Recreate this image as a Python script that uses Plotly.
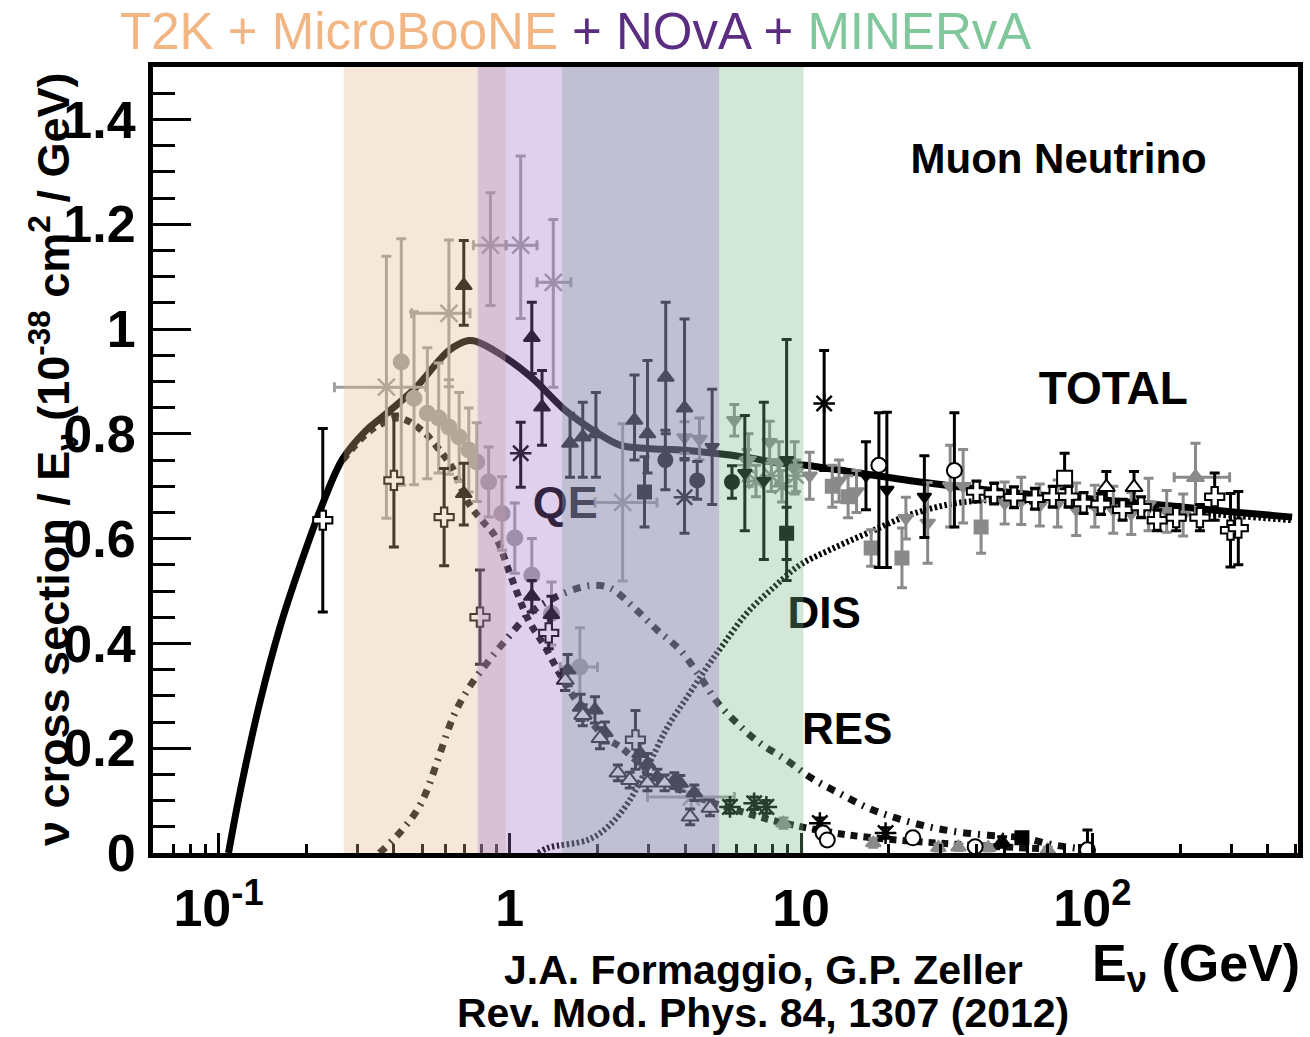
import plotly.graph_objects as go

# ---------------- model curves ----------------
total_E = [0.1082, 0.1189, 0.139, 0.1627, 0.1904, 0.228, 0.2668, 0.322, 0.365, 0.477, 0.618, 0.723, 0.77,
           0.915, 1.186, 1.549, 2.006, 2.403, 2.971, 3.849, 5.027, 6.516, 8.44, 10.35, 14.97, 27.4, 50.5,
           93.2, 172, 317, 485]
total_y = [0.0, 0.12, 0.29, 0.432, 0.548, 0.667, 0.752, 0.807, 0.832, 0.889, 0.959, 0.978, 0.976,
           0.954, 0.908, 0.845, 0.801, 0.778, 0.772, 0.769, 0.763, 0.755, 0.744, 0.74, 0.727, 0.706, 0.689,
           0.677, 0.664, 0.650, 0.641]

qe_E = [0.2668, 0.322, 0.365, 0.4174, 0.5, 0.585, 0.633,
        0.723, 0.801, 0.894, 1.0055, 1.158, 1.323, 1.525, 1.756, 2.12, 2.403, 2.971, 3.849, 5.027, 6.516,
        8.44, 14.28, 31.3, 68.7]
qe_y = [0.75, 0.80, 0.82, 0.83, 0.806, 0.763, 0.736,
        0.667, 0.635, 0.603, 0.53, 0.445, 0.393, 0.33, 0.278, 0.221, 0.202, 0.158, 0.12, 0.095, 0.076,
        0.059, 0.035, 0.018, 0.008]

res_E = [0.357, 0.427, 0.496, 0.643, 0.723, 0.826, 0.967, 1.186, 1.431, 1.756, 1.975, 2.222, 2.683,
         3.214, 3.849, 4.504, 5.15, 6.02, 7.21, 8.92, 10.85, 13.52, 16.97, 21.15, 27.4, 34.7, 43.9,
         57.3, 74.3, 101.7]
res_y = [0.0, 0.044, 0.095, 0.263, 0.315, 0.359, 0.406, 0.46, 0.488, 0.507, 0.511, 0.505, 0.467,
         0.425, 0.387, 0.336, 0.288, 0.248, 0.210, 0.177, 0.143, 0.114, 0.086, 0.067, 0.050, 0.040, 0.034,
         0.029, 0.015, 0.005]

dis_E = [1.253, 1.355, 1.855, 2.17, 2.54, 2.971, 3.475, 4.067, 4.758, 5.437, 6.516, 8.05, 9.87, 12.5,
         16.84, 24.4, 39.6, 101.7, 489]
dis_y = [0.0, 0.01, 0.025, 0.05, 0.095, 0.164, 0.24, 0.298, 0.355, 0.40, 0.458, 0.507, 0.549, 0.578,
         0.61, 0.648, 0.672, 0.662, 0.635]

# ---------------- data points ----------------
cross_E = [0.228, 0.40, 0.595, 0.79, 1.36, 2.7, 40, 46, 53.8, 63.5, 73.1, 82.9, 93.3, 107, 127, 147, 167,
           194, 234, 263, 298, 317]
cross_y = [0.635, 0.711, 0.641, 0.45, 0.42, 0.216, 0.69, 0.686, 0.679, 0.676, 0.68, 0.68, 0.668, 0.666,
           0.655, 0.66, 0.635, 0.64, 0.64, 0.68, 0.616, 0.62]
cross_err = [0.175, 0.127, 0.093, 0.09, 0.03, 0.056, 0.02, 0.02, 0.02, 0.02, 0.02, 0.02, 0.02, 0.02,
             0.02, 0.02, 0.02, 0.025, 0.025, 0.045, 0.07, 0.07]

circ_E = [0.424, 0.469, 0.521, 0.57, 0.618, 0.67, 0.723, 0.77, 0.846, 0.94, 1.04, 1.19, 1.39]
circ_y = [0.937, 0.868, 0.839, 0.83, 0.813, 0.794, 0.769, 0.746, 0.708, 0.648, 0.601, 0.53, 0.457]
circ_err = [0.235, 0.165, 0.125, 0.105, 0.09, 0.085, 0.08, 0.075, 0.067, 0.07, 0.067, 0.07, 0.06]

gstar_E = [0.377, 0.618, 0.858, 1.09, 1.41, 2.44, 4.2]
gstar_y = [0.889, 1.03, 1.16, 1.16, 1.089, 0.669, 0.107]
gstar_lo = [0.25, 0.46, 0.75, 0.97, 1.24, 1.96, 2.97]
gstar_hi = [0.515, 0.73, 0.97, 1.24, 1.62, 3.2, 5.9]
gstar_eyp = [0.25, 0.14, 0.10, 0.17, 0.12, 0.15, 0.0]
gstar_eym = [0.25, 0.14, 0.115, 0.14, 0.20, 0.15, 0.0]

ghist_E = [1.74]
ghist_y = [0.355]
ghist_lo = [1.49]
ghist_hi = [2.0]
ghist_err = [0.075]

tri_E = [0.695, 0.695, 1.19, 1.29, 1.61, 1.78, 1.975, 2.68, 2.97, 3.43, 3.98, 1.19, 1.39, 1.58, 1.75,
         1.96, 2.12, 2.8, 2.97, 3.21, 3.67, 3.85, 4.3, 49]
tri_y = [1.083, 0.686, 0.984, 0.851, 0.782, 0.794, 0.80, 0.826, 0.80, 0.908, 0.849, 0.49, 0.455, 0.349,
         0.278, 0.273, 0.23, 0.19, 0.17, 0.145, 0.138, 0.133, 0.115, 0.021]
tri_eyp = [0.086, 0.058, 0.067, 0.07, 0.057, 0.066, 0.079, 0.086, 0.14, 0.143, 0.17, 0.03, 0.035, 0.03,
           0.025, 0.025, 0.02, 0.02, 0.02, 0.015, 0.015, 0.015, 0.015, 0.01]
tri_eym = [0.076, 0.06, 0.069, 0.073, 0.065, 0.077, 0.083, 0.076, 0.075, 0.108, 0.099, 0.03, 0.035, 0.03,
           0.025, 0.025, 0.02, 0.02, 0.02, 0.015, 0.015, 0.015, 0.015, 0.01]

bstar_E = [1.09, 3.98, 12.0, 5.7, 6.9, 7.6, 11.6, 19.5]
bstar_y = [0.763, 0.679, 0.858, 0.088, 0.095, 0.088, 0.057, 0.038]
bstar_eyp = [0.059, 0.074, 0.101, 0.012, 0.012, 0.012, 0.01, 0.01]
bstar_eym = [0.065, 0.069, 0.128, 0.012, 0.012, 0.012, 0.01, 0.01]

bcirc_E = [3.42, 4.4, 5.79]
bcirc_y = [0.75, 0.711, 0.708]
bcirc_err = [0.057, 0.036, 0.031]

bsq_E = [2.9, 8.92, 57.3]
bsq_y = [0.689, 0.61, 0.029]
bsq_err = [0.067, 0.05, 0.006]

btd_E = [4.95, 6.41, 7.45, 8.92, 16.7, 19.7, 26.5]
btd_y = [0.775, 0.725, 0.71, 0.75, 0.72, 0.693, 0.68]
btd_err = [0.11, 0.11, 0.15, 0.23, 0.065, 0.148, 0.078]

ocirc_E = [18.5, 33.6, 11.9, 12.3, 24.2, 39.6, 96.2]
ocirc_y = [0.74, 0.73, 0.038, 0.025, 0.029, 0.012, 0.006]
ocirc_eyp = [0.10, 0.11, 0.008, 0.008, 0.008, 0.006, 0.038]
ocirc_eym = [0.195, 0.108, 0.008, 0.008, 0.008, 0.006, 0.006]

otri_E = [1.55, 1.78, 2.04, 2.35, 2.58, 2.97, 3.40, 4.16, 4.87, 111.7, 139]
otri_y = [0.33, 0.263, 0.219, 0.153, 0.139, 0.134, 0.134, 0.069, 0.086, 0.698, 0.698]
otri_err = [0.02, 0.02, 0.02, 0.015, 0.015, 0.015, 0.015, 0.015, 0.015, 0.03, 0.03]

osq_E = [80.3]
osq_y = [0.715]
osq_eyp = [0.048]
osq_eym = [0.02]

gtri_E = [226]
gtri_y = [0.717]
gtri_lo = [191]
gtri_hi = [296]
gtri_eyp = [0.065]
gtri_eym = [0.082]

gtri2_E = [8.7, 17.7, 29.6, 34.7, 43.9, 70.3]
gtri2_y = [0.057, 0.019, 0.01, 0.011, 0.01, 0.006]
gtri2_err = [0.01, 0.008, 0.006, 0.006, 0.006, 0.005]

gtd_E = [3.98, 4.48, 5.9, 7.8, 6.6, 8.4, 9.5, 10.7, 13.5, 15.5, 22.9, 27.2, 32.5, 36, 50, 57, 66, 76, 88,
         102, 118, 136, 156, 180, 205]
gtd_y = [0.793, 0.79, 0.826, 0.784, 0.75, 0.745, 0.735, 0.72, 0.71, 0.69, 0.639, 0.63, 0.70, 0.70, 0.668,
         0.672, 0.664, 0.667, 0.656, 0.662, 0.655, 0.648, 0.665, 0.652, 0.645]
gtd_err = [0.03, 0.04, 0.03, 0.04, 0.05, 0.04, 0.05, 0.045, 0.04, 0.04, 0.04, 0.077, 0.078, 0.07, 0.04,
           0.045, 0.04, 0.045, 0.05, 0.04, 0.045, 0.04, 0.05, 0.04, 0.04]

gsq_E = [17.4, 22.2, 41.5, 12.8, 14.5]
gsq_y = [0.582, 0.563, 0.622, 0.70, 0.68]
gsq_err = [0.035, 0.057, 0.05, 0.04, 0.04]

gstar2_E = [6.5, 7.0, 7.9, 8.6, 9.6]
gstar2_y = [0.74, 0.71, 0.72, 0.70, 0.72]
gstar2_err = [0.03, 0.03, 0.03, 0.03, 0.03]

# experiment bands (GeV); drawn in this order so MINERvA sits under NOvA
band_names = ["T2K + MicroBooNE", "MINERvA", "NOvA"]
band_lo = [0.269, 1.512, 0.776]
band_hi = [0.967, 10.19, 5.23]
band_rgba = ["rgba(225,181,140,0.32)", "rgba(121,182,136,0.33)", "rgba(156,109,203,0.32)"]

x_major = [0.1, 1, 10, 100]
x_major_text = ["10<sup>-1</sup>", "1", "10", "10<sup>2</sup>"]
x_minor = [0.07, 0.08, 0.09, 0.2, 0.3, 0.4, 0.5, 0.6, 0.7, 0.8, 0.9, 2, 3, 4, 5, 6, 7, 8, 9,
           20, 30, 40, 50, 60, 70, 80, 90, 200, 300, 400, 500]
y_major = [0, 0.2, 0.4, 0.6, 0.8, 1.0, 1.2, 1.4]
y_major_text = ["0", "0.2", "0.4", "0.6", "0.8", "1", "1.2", "1.4"]

BLACK = "#000000"
GRAY = "#8a8a8a"
LGRAY = "#a0a0a0"
FONT = "Liberation Sans, Arial, Helvetica, sans-serif"

fig = go.Figure()

# curves
fig.add_trace(go.Scatter(x=dis_E, y=dis_y, mode="lines", line=dict(color="#000", width=6, dash="2.5px,2.5px", shape="spline"), hoverinfo="skip"))
fig.add_trace(go.Scatter(x=res_E, y=res_y, mode="lines", line=dict(color="#111", width=7, dash="8px,7px,2px,7px", shape="spline"), hoverinfo="skip"))
fig.add_trace(go.Scatter(x=qe_E, y=qe_y, mode="lines", line=dict(color="#111", width=7, dash="7px,6px", shape="spline"), hoverinfo="skip"))
fig.add_trace(go.Scatter(x=total_E, y=total_y, mode="lines", line=dict(color="#000", width=7, shape="spline", smoothing=1.0), hoverinfo="skip"))


def pts(x, y, symbol, color, size, eyp, eym=None, xlo=None, xhi=None, fill=None, lw=2):
    ey = dict(type="data", array=eyp, arrayminus=eym if eym is not None else eyp,
              color=color, thickness=3, width=5, visible=True)
    kw = {}
    if xlo is not None:
        kw["error_x"] = dict(type="data", array=[h - c for h, c in zip(xhi, x)],
                             arrayminus=[c - l for c, l in zip(x, xlo)],
                             color=color, thickness=3, width=5, visible=True)
    fig.add_trace(go.Scatter(
        x=x, y=y, mode="markers", error_y=ey,
        marker=dict(symbol=symbol, size=size, color=fill if fill else color,
                    line=dict(color=color, width=lw)),
        hoverinfo="skip", **kw))


pts(gtd_E, gtd_y, "triangle-down", GRAY, 13, gtd_err)
pts(gsq_E, gsq_y, "square", GRAY, 13, gsq_err)
pts(gstar2_E, gstar2_y, "asterisk-open", GRAY, 18, gstar2_err, lw=2.5)
pts(gtri2_E, gtri2_y, "triangle-up", GRAY, 13, gtri2_err)
pts(gtri_E, gtri_y, "triangle-up", GRAY, 15, gtri_eyp, gtri_eym, gtri_lo, gtri_hi)
pts(circ_E, circ_y, "circle", LGRAY, 15, circ_err)
pts(ghist_E, ghist_y, "circle", LGRAY, 15, ghist_err, None, ghist_lo, ghist_hi)
pts(gstar_E, gstar_y, "asterisk-open", LGRAY, 20, gstar_eyp, gstar_eym, gstar_lo, gstar_hi, lw=2.5)
pts(btd_E, btd_y, "triangle-down", BLACK, 12, btd_err)
pts(tri_E, tri_y, "triangle-up", BLACK, 14, tri_eyp, tri_eym)
pts(bstar_E, bstar_y, "asterisk-open", BLACK, 18, bstar_eyp, bstar_eym, lw=2.5)
pts(bcirc_E, bcirc_y, "circle", BLACK, 14, bcirc_err)
pts(bsq_E, bsq_y, "square", BLACK, 13, bsq_err)
pts(ocirc_E, ocirc_y, "circle", BLACK, 15, ocirc_eyp, ocirc_eym, fill="white")
pts(otri_E, otri_y, "triangle-up", BLACK, 15, otri_err, fill="white")
pts(osq_E, osq_y, "square", BLACK, 15, osq_eyp, osq_eym, fill="white")
pts(cross_E, cross_y, "cross", BLACK, 16, cross_err, fill="white")

# in-plot labels (as text traces so the bands tint them)
lab_text = ["<b>Muon Neutrino</b>", "<b>TOTAL</b>", "<b>QE</b>", "<b>DIS</b>", "<b>RES</b>"]
lab_E = [76.6, 118, 1.549, 12.0, 14.4]
lab_y = [1.318, 0.879, 0.66, 0.45, 0.229]
lab_size = [42, 46, 45, 44, 44]
for t, xx, yy, s in zip(lab_text, lab_E, lab_y, lab_size):
    fig.add_trace(go.Scatter(x=[xx], y=[yy], mode="text", text=[t], textposition="middle center",
                             textfont=dict(family=FONT, size=s, color="#000"), hoverinfo="skip"))

# bands overlay
shapes = []
for lo, hi, c in zip(band_lo, band_hi, band_rgba):
    shapes.append(dict(type="rect", xref="x", yref="paper", x0=lo, x1=hi, y0=0, y1=1,
                       fillcolor=c, line=dict(width=0), layer="above"))

fig.update_layout(
    width=1310, height=1037,
    margin=dict(l=153, r=7, t=67, b=184),
    paper_bgcolor="white", plot_bgcolor="white",
    showlegend=False,
    shapes=shapes,
    font=dict(family=FONT, color="#000"),
)

fig.update_xaxes(
    type="log", range=[-1.225, 2.706],
    tickmode="array", tickvals=x_major, ticktext=x_major_text,
    ticks="inside", ticklen=20, tickwidth=3, tickcolor="#000",
    minor=dict(tickmode="array", tickvals=x_minor, ticks="inside", ticklen=9, tickwidth=3, tickcolor="#000"),
    tickfont=dict(family=FONT, size=52, weight="bold", color="#000"),
    ticklabelstandoff=6,
    showline=True, linewidth=5, linecolor="#000", mirror=True,
    showgrid=False, zeroline=False,
)
fig.update_yaxes(
    range=[0, 1.5],
    tickmode="array", tickvals=y_major, ticktext=y_major_text,
    ticks="inside", ticklen=38, tickwidth=3, tickcolor="#000",
    minor=dict(dtick=0.05, ticks="inside", ticklen=22, tickwidth=3, tickcolor="#000"),
    tickfont=dict(family=FONT, size=52, weight="bold", color="#000"),
    ticklabelstandoff=2,
    showline=True, linewidth=5, linecolor="#000", mirror=True,
    showgrid=False, zeroline=False,
)

title_html = ("<span style='color:#f2b684'>T2K + MicroBooNE</span>"
              "<span style='color:#5b2d80'> + NOvA + </span>"
              "<span style='color:#80c89c'>MINERvA</span>")
fig.add_annotation(text=title_html, xref="paper", yref="paper", x=-0.0304, y=1, xanchor="left",
                   yanchor="middle", yshift=36, showarrow=False, font=dict(family=FONT, size=51))

fig.add_annotation(text="ν cross section / E<sub>ν</sub> (10<sup>-38</sup> cm<sup>2</sup> / GeV)",
                   xref="paper", yref="paper", x=0, y=0.5, xanchor="center", yanchor="middle",
                   xshift=-100, textangle=-90, showarrow=False,
                   font=dict(family=FONT, size=45, weight="bold", color="#000"))

fig.add_annotation(text="E<sub>ν</sub> (GeV)", xref="paper", yref="paper", x=1, y=0, xanchor="right",
                   yanchor="middle", yshift=-114, xshift=4, showarrow=False,
                   font=dict(family=FONT, size=52, weight="bold", color="#000"))

fig.add_annotation(text="J.A. Formaggio, G.P. Zeller", xref="paper", yref="paper", x=(766 - 153) / 1150, y=0,
                   xanchor="center", yanchor="middle", yshift=-117, showarrow=False,
                   font=dict(family=FONT, size=41, weight="bold", color="#000"))
fig.add_annotation(text="Rev. Mod. Phys. 84, 1307 (2012)", xref="paper", yref="paper", x=(766 - 153) / 1150, y=0,
                   xanchor="center", yanchor="middle", yshift=-160, showarrow=False,
                   font=dict(family=FONT, size=41, weight="bold", color="#000"))

fig.write_html("out.html")
